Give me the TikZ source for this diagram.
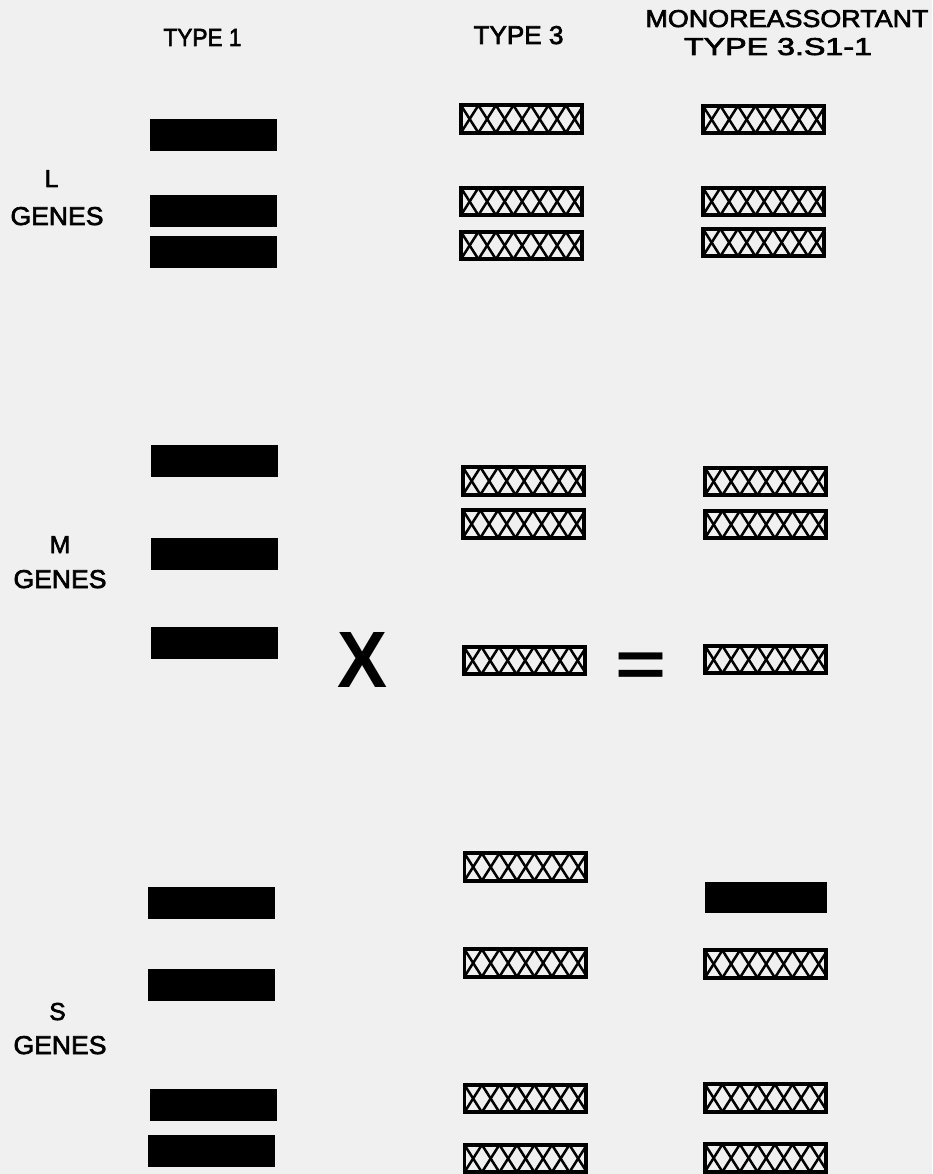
\documentclass[tikz,border=0pt]{standalone}
\usepackage{fontspec}
\setmainfont{Liberation Sans}
\newfontfamily\txtfont{Liberation Sans}[FakeBold=2.5]
\usetikzlibrary{calc}
\definecolor{bg}{RGB}{240,240,240}
\begin{document}
\begin{tikzpicture}[x=1pt,y=-1pt,
  blackbox/.style={fill=black, minimum width=127pt, minimum height=32pt, inner sep=0pt, outer sep=0pt},
  hatchbox/.style={draw=black, line width=3.8pt, fill=bg, minimum width=121.2pt, minimum height=27.4pt, inner sep=0pt, outer sep=0pt,
    path picture={\foreach \k in {-1,...,8}{
      \draw[line width=2.5pt] ($(path picture bounding box.south west)+(\k*17.5pt,0pt)$) -- ($(path picture bounding box.north west)+(\k*17.5pt+17.5pt,0pt)$);
      \draw[line width=2.5pt] ($(path picture bounding box.south west)+(\k*17.5pt+17.5pt,0pt)$) -- ($(path picture bounding box.north west)+(\k*17.5pt,0pt)$);
    }}},
  txt/.style={anchor=base, inner sep=0pt, outer sep=0pt, font=\txtfont},
  lab/.style={txt, font=\txtfont\fontsize{24.5}{28}\selectfont}
]
\fill[bg] (0,0) rectangle (932,1174);
\useasboundingbox (0,0) rectangle (932,1174);

% headers
\node[txt] (h1) at (202.5,46) {\resizebox{78pt}{17pt}{TYPE 1}};
\node[txt] (h3) at (518.5,44) {\resizebox{90pt}{18pt}{TYPE 3}};
\node[txt] (h4) at (787,27) {\resizebox{283pt}{17pt}{MONOREASSORTANT}};
\node[txt] (h5) at (778,55) {\resizebox{188pt}{17pt}{TYPE 3.S1-1}};

% row labels
\node[lab] (lL) at (51.5,187) {L};
\node[txt] (lG1) at (57,225) {\resizebox{93pt}{18pt}{GENES}};
\node[lab] (lM) at (60,553) {M};
\node[txt] (lG2) at (60,588) {\resizebox{93pt}{18pt}{GENES}};
\node[lab] (lS) at (57.5,1020) {S};
\node[txt] (lG3) at (60,1054) {\resizebox{93pt}{18pt}{GENES}};

% operators
\node[anchor=base, inner sep=0pt] (cross) at (362.5,687) {\resizebox{50pt}{55pt}{\bfseries X}};
\node[anchor=base, inner sep=0pt] (equals) at (641,686.6) {\resizebox{51pt}{33.6pt}{\bfseries =}};

% type 1
\node[blackbox] (a1) at (213.5,135) {};
\node[blackbox] (a2) at (213.5,211) {};
\node[blackbox] (a3) at (213.5,252) {};
\node[blackbox] (a4) at (214.5,461) {};
\node[blackbox] (a5) at (214.5,554) {};
\node[blackbox] (a6) at (214.5,643) {};
\node[blackbox] (a7) at (211,903) {};
\node[blackbox] (a8) at (211,984.5) {};
\node[blackbox] (a9) at (213,1105) {};
\node[blackbox] (a10) at (211,1151) {};

% type 3
\node[hatchbox] (b1) at (521.5,119) {};
\node[hatchbox] (b2) at (521.5,201.5) {};
\node[hatchbox] (b3) at (521.5,245.5) {};
\node[hatchbox] (b4) at (523.5,481) {};
\node[hatchbox] (b5) at (523.5,524) {};
\node[hatchbox] (b6) at (524.5,660.5) {};
\node[hatchbox] (b7) at (525,867) {};
\node[hatchbox] (b8) at (525,963) {};
\node[hatchbox] (b9) at (525,1098.5) {};
\node[hatchbox] (b10) at (525,1158.5) {};

% monoreassortant
\node[hatchbox] (c1) at (763.5,119.5) {};
\node[hatchbox] (c2) at (763.5,201.5) {};
\node[hatchbox] (c3) at (763.5,242.5) {};
\node[hatchbox] (c4) at (765.5,481.5) {};
\node[hatchbox] (c5) at (765.5,524.5) {};
\node[hatchbox] (c6) at (765.5,659.5) {};
\node[blackbox, minimum width=122pt, minimum height=31pt] (c7) at (766,897.5) {};
\node[hatchbox] (c8) at (765.5,964) {};
\node[hatchbox] (c9) at (765.5,1098) {};
\node[hatchbox] (c10) at (765.5,1158) {};
\end{tikzpicture}
\end{document}
